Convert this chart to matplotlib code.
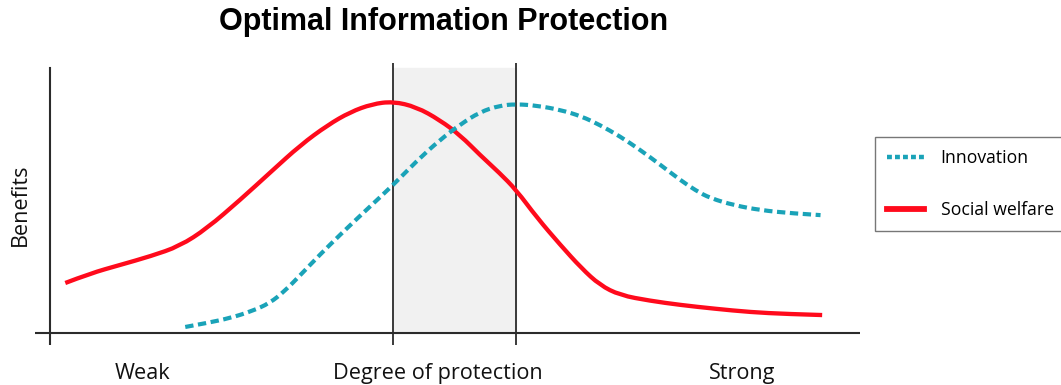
import numpy as np
import matplotlib.pyplot as plt
from matplotlib.lines import Line2D
from matplotlib.path import Path
from matplotlib.patches import PathPatch

# Degree of protection (0 = weak, 100 = strong) vs benefits (0-100)
welfare_x = [1.9, 5.0, 8.7, 12.5, 16.1, 19.5, 23.6, 27.5, 31.1, 34.5, 37.3, 40.0,
             42.6, 45.5, 48.4, 51.0, 53.4, 55.8, 57.9, 60.5, 63.4, 66.0, 68.3,
             70.8, 74.5, 78.3, 82.5, 87.0, 91.5, 95.9]
welfare_y = [18.9, 22.5, 25.7, 29.0, 32.8, 39.5, 50.2, 61.0, 70.9, 78.5, 83.4, 86.4,
             87.4, 85.3, 80.4, 74.5, 67.2, 60.5, 54.0, 43.5, 33.2, 24.5, 18.1,
             14.3, 12.2, 10.6, 9.2, 7.9, 7.2, 6.8]

innov_x = [16.8, 19.5, 22.4, 25.0, 27.3, 29.2, 31.1, 33.5, 36.0, 39.3, 42.6, 45.5,
           48.4, 51.0, 53.4, 55.8, 57.9, 60.5, 63.4, 66.0, 68.3, 70.8, 73.3,
           75.8, 78.3, 80.2, 82.0, 85.0, 88.2, 92.0, 95.7]
innov_y = [2.3, 3.8, 5.7, 8.2, 11.3, 16.0, 21.9, 29.5, 37.0, 46.5, 55.8, 64.8,
           72.8, 78.8, 83.4, 85.8, 86.4, 85.8, 84.2, 81.8, 78.5, 74.2, 69.1,
           63.5, 57.7, 53.8, 50.9, 48.2, 46.4, 45.2, 44.5]

optimal_range = [42.6, 57.9]
tick_pos = [11.5, 48.2, 86.0]
tick_labels = ["Weak", "Degree of protection", "Strong"]

red = "#ff0a1c"
teal = "#1aa3b8"
axis_col = "#2b2b2b"
font = "Open Sans"


def smooth_path(xs, ys):
    # quadratic bezier through midpoints, the read points act as control points
    pts = np.column_stack([xs, ys])
    verts = [pts[0]]
    codes = [Path.MOVETO]
    for i in range(1, len(pts) - 2):
        verts += [pts[i], (pts[i] + pts[i + 1]) / 2]
        codes += [Path.CURVE3, Path.CURVE3]
    verts += [pts[-2], pts[-1]]
    codes += [Path.CURVE3, Path.CURVE3]
    return Path(verts, codes)


fig = plt.figure(figsize=(10.61, 3.85), dpi=100)
ax = fig.add_axes([35 / 1061, 40 / 385, 825 / 1061, 282 / 385])
ax.set_xlim(-1.86, 100.6)
ax.set_ylim(-4.5, 101.9)
ax.axis("off")

# shaded optimal range and its borders
ax.axvspan(optimal_range[0], optimal_range[1], ymin=4.5 / 106.4, ymax=104.5 / 106.4,
           color="#f1f1f1", zorder=0)
for xv in optimal_range:
    ax.plot([xv, xv], [-4.5, 101.9], color=axis_col, lw=1.3, zorder=1)

# axes lines
ax.plot([-1.86, 100.6], [0, 0], color=axis_col, lw=1.5, zorder=1)
ax.plot([0, 0], [-4.5, 100], color=axis_col, lw=1.5, zorder=1)

ax.add_patch(PathPatch(smooth_path(welfare_x, welfare_y), fill=False,
                       edgecolor=red, lw=3.1, capstyle="butt", zorder=3))
ax.add_patch(PathPatch(smooth_path(innov_x, innov_y), fill=False,
                       edgecolor=teal, lw=3.0, linestyle=(0, (2.0, 1.1)),
                       capstyle="butt", zorder=3))

for xp, lab in zip(tick_pos, tick_labels):
    ax.text(xp, -15.4, lab, ha="center", va="center", fontsize=15.6,
            family=font, color="#111111", clip_on=False)

fig.text(20 / 1061, 1 - 205 / 385, "Benefits", rotation=90, ha="center",
         va="center", fontsize=15.6, family=font, color="#111111")

fig.text(444 / 1061, 1 - 22 / 385, "Optimal Information Protection", ha="center",
         va="center", fontsize=22, fontweight="bold", family="Liberation Sans")

handles = [Line2D([], [], color=teal, lw=3.2, dashes=(1.1, 0.7)),
           Line2D([], [], color=red, lw=4.2)]
leg = fig.legend(handles, ["Innovation", "Social welfare"], loc="upper left",
                 bbox_to_anchor=(875 / 1061, 1 - 137 / 385), frameon=True,
                 fancybox=False, edgecolor="#777777", framealpha=1,
                 prop={"family": font, "size": 12.7}, labelspacing=1.9,
                 handlelength=2.05, handletextpad=0.97, borderpad=0.7,
                 borderaxespad=0)
leg.get_frame().set_linewidth(1.0)

fig.savefig("out.png", dpi=100)
